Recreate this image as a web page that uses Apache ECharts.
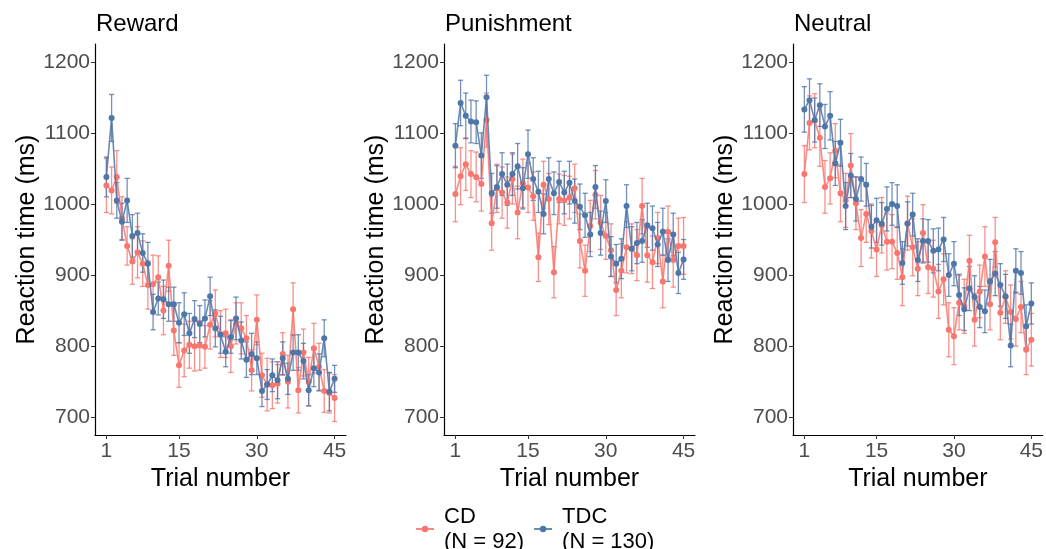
<!DOCTYPE html>
<html>
<head>
<meta charset="utf-8">
<title>Reaction time by trial</title>
<script src="https://cdn.jsdelivr.net/npm/echarts@6.0.0/dist/echarts.min.js"></script>
<style>
  html, body { margin: 0; padding: 0; background: #fff; }
  #chart { width: 1046px; height: 549px; }
</style>
</head>
<body>
<div id="chart"></div>
<script>
const panels = ['Reward', 'Punishment', 'Neutral'];
const xTicks = [1, 15, 30, 45];
const yTicks = [700, 800, 900, 1000, 1100, 1200];

// mean reaction time per trial (trial 1..45)
const rewardCD = [1026, 1019, 1038, 980, 941, 919, 932, 916, 886, 887, 897, 850, 913, 822, 773, 794, 802, 800, 801, 799, 830, 846, 817, 818, 800, 832, 825, 811, 766, 837, 759, 746, 745, 747, 789, 750, 852, 738, 791, 750, 797, 771, 737, 734, 727];
const rewardTDC = [1038, 1121, 1005, 975, 1005, 955, 959, 931, 916, 848, 867, 866, 859, 859, 833, 845, 818, 838, 831, 839, 870, 825, 816, 792, 813, 839, 808, 781, 789, 783, 737, 746, 759, 752, 783, 754, 791, 791, 779, 738, 769, 763, 811, 736, 754];
const punishCD = [1014, 1039, 1056, 1042, 1038, 1028, 1118, 973, 1022, 1016, 1002, 1035, 988, 1029, 1023, 1011, 925, 1027, 1007, 904, 1007, 1005, 1009, 1022, 948, 906, 969, 1013, 974, 955, 935, 879, 906, 939, 937, 928, 997, 928, 918, 952, 891, 961, 921, 941, 941];
const punishTDC = [1082, 1142, 1124, 1116, 1115, 1068, 1150, 1015, 1024, 1042, 1027, 1042, 1053, 1022, 1070, 1035, 1017, 986, 1035, 1015, 1031, 1016, 1030, 1004, 996, 984, 957, 1024, 959, 1004, 926, 916, 923, 997, 937, 945, 948, 970, 966, 943, 961, 921, 957, 903, 922];
const neutralCD = [1042, 1114, 1117, 1093, 1024, 1036, 1075, 1015, 1005, 1054, 1001, 952, 986, 962, 936, 970, 947, 947, 931, 897, 973, 939, 909, 959, 911, 909, 877, 894, 823, 814, 861, 856, 920, 837, 877, 926, 859, 946, 847, 869, 848, 838, 855, 795, 809];
const neutralTDC = [1133, 1146, 1118, 1139, 1109, 1124, 1057, 1086, 997, 1040, 1007, 1035, 1027, 968, 977, 972, 993, 1000, 997, 917, 972, 985, 921, 948, 948, 934, 936, 950, 900, 916, 872, 852, 881, 869, 855, 849, 891, 902, 886, 870, 801, 906, 903, 828, 860];

// half length of the error bars
const rewardCDErr = [38, 33, 37, 30, 27, 32, 36, 32, 34, 41, 30, 34, 36, 35, 31, 37, 33, 35, 35, 30, 34, 33, 33, 34, 37, 29, 36, 32, 29, 35, 31, 37, 33, 27, 30, 37, 37, 32, 33, 34, 35, 33, 30, 28, 33];
const rewardTDCErr = [28, 33, 25, 26, 31, 30, 28, 27, 30, 25, 23, 27, 24, 24, 28, 30, 28, 26, 26, 26, 27, 26, 26, 21, 23, 30, 26, 25, 29, 23, 22, 21, 23, 26, 23, 22, 25, 25, 25, 22, 26, 26, 26, 27, 19];
const punishCDErr = [39, 40, 37, 33, 35, 38, 38, 38, 34, 36, 36, 35, 37, 34, 35, 34, 34, 33, 36, 36, 35, 35, 30, 34, 38, 36, 36, 34, 38, 33, 37, 36, 38, 36, 35, 36, 39, 38, 37, 36, 37, 36, 38, 39, 40];
const punishTDCErr = [31, 32, 32, 30, 30, 32, 31, 28, 30, 30, 29, 30, 32, 29, 34, 30, 29, 28, 30, 30, 29, 30, 30, 31, 32, 31, 31, 30, 31, 30, 28, 27, 28, 30, 31, 29, 30, 31, 31, 31, 33, 30, 30, 29, 28];
const neutralCDErr = [40, 38, 38, 40, 37, 36, 38, 40, 38, 45, 37, 40, 40, 38, 38, 39, 40, 38, 37, 40, 38, 40, 38, 40, 37, 40, 38, 36, 38, 40, 38, 38, 36, 37, 37, 42, 36, 35, 38, 37, 38, 38, 36, 35, 37];
const neutralTDCErr = [32, 30, 31, 30, 31, 34, 31, 33, 33, 31, 31, 31, 30, 30, 31, 30, 31, 30, 30, 30, 31, 30, 30, 31, 30, 31, 30, 31, 30, 31, 29, 30, 31, 30, 29, 30, 31, 31, 30, 31, 30, 31, 30, 30, 29];

const cdColor = '#F8766D';
const tdcColor = '#4F76A8';
const font = 'Liberation Sans, Arial, sans-serif';

const groups = [
  { cd: rewardCD, cdErr: rewardCDErr, tdc: rewardTDC, tdcErr: rewardTDCErr },
  { cd: punishCD, cdErr: punishCDErr, tdc: punishTDC, tdcErr: punishTDCErr },
  { cd: neutralCD, cdErr: neutralCDErr, tdc: neutralTDC, tdcErr: neutralTDCErr }
];
const gridLefts = [95, 444, 793];

function toPoints(values) {
  return values.map((v, i) => [i + 1, v]);
}
function toBars(values, errs) {
  return values.map((v, i) => [i + 1, v - errs[i], v + errs[i]]);
}

function renderErr(params, api) {
  const x = api.value(0);
  const lo = api.coord([x, api.value(1)]);
  const hi = api.coord([x, api.value(2)]);
  const cap = 2.6;
  const style = { stroke: api.visual('color'), lineWidth: 1.3, opacity: 0.8 };
  return {
    type: 'group',
    children: [
      { type: 'line', shape: { x1: lo[0], y1: lo[1], x2: hi[0], y2: hi[1] }, style: style },
      { type: 'line', shape: { x1: lo[0] - cap, y1: lo[1], x2: lo[0] + cap, y2: lo[1] }, style: style },
      { type: 'line', shape: { x1: hi[0] - cap, y1: hi[1], x2: hi[0] + cap, y2: hi[1] }, style: style }
    ]
  };
}

const grid = [], xAxis = [], yAxis = [], title = [], series = [];
panels.forEach((name, k) => {
  grid.push({ left: gridLefts[k], top: 44, width: 251, height: 391 });
  title.push({
    text: name, left: gridLefts[k] - 4, top: 7,
    textStyle: { fontFamily: font, fontSize: 24, fontWeight: 'normal', color: '#000' }
  });
  xAxis.push({
    type: 'value', gridIndex: k, min: -1.2, max: 47.2,
    name: 'Trial number', nameLocation: 'middle', nameGap: 28,
    nameTextStyle: { fontFamily: font, fontSize: 25, color: '#000' },
    splitLine: { show: false },
    axisLine: { show: true, onZero: false, lineStyle: { color: '#000', width: 1.2 } },
    axisTick: { show: true, length: 4, customValues: xTicks, lineStyle: { color: '#333' } },
    axisLabel: { customValues: xTicks, margin: 6, fontFamily: font, fontSize: 21, color: '#4D4D4D' }
  });
  yAxis.push({
    type: 'value', gridIndex: k, min: 675, max: 1225,
    name: 'Reaction time (ms)', nameLocation: 'middle', nameGap: 51,
    nameTextStyle: { fontFamily: font, fontSize: 25, color: '#000' },
    splitLine: { show: false },
    axisLine: { show: true, onZero: false, lineStyle: { color: '#000', width: 1.2 } },
    axisTick: { show: true, length: 4, customValues: yTicks, lineStyle: { color: '#333' } },
    axisLabel: {
      customValues: yTicks, margin: 5, fontFamily: font, fontSize: 21, color: '#4D4D4D',
      formatter: (v) => String(v)
    }
  });

  const g = groups[k];
  series.push({
    type: 'custom', name: 'CD err', xAxisIndex: k, yAxisIndex: k,
    itemStyle: { color: cdColor }, renderItem: renderErr,
    encode: { x: 0, y: [1, 2] }, data: toBars(g.cd, g.cdErr), z: 1
  });
  series.push({
    type: 'custom', name: 'TDC err', xAxisIndex: k, yAxisIndex: k,
    itemStyle: { color: tdcColor }, renderItem: renderErr,
    encode: { x: 0, y: [1, 2] }, data: toBars(g.tdc, g.tdcErr), z: 2
  });
  series.push({
    type: 'line', name: 'CD', xAxisIndex: k, yAxisIndex: k,
    symbol: 'circle', symbolSize: 6, showAllSymbol: true,
    itemStyle: { color: cdColor },
    lineStyle: { color: cdColor, width: 1.6, opacity: 0.85 },
    data: toPoints(g.cd), z: 3
  });
  series.push({
    type: 'line', name: 'TDC', xAxisIndex: k, yAxisIndex: k,
    symbol: 'circle', symbolSize: 6, showAllSymbol: true,
    itemStyle: { color: tdcColor },
    lineStyle: { color: tdcColor, width: 1.6, opacity: 0.85 },
    data: toPoints(g.tdc), z: 4
  });
});

const legendN = { CD: '(N = 92)', TDC: '(N = 130)' };

const chart = echarts.init(document.getElementById('chart'), null, { renderer: 'canvas' });
chart.setOption({
  animation: false,
  backgroundColor: '#fff',
  title: title,
  grid: grid,
  xAxis: xAxis,
  yAxis: yAxis,
  legend: {
    data: ['CD', 'TDC'],
    left: 410, top: 499,
    itemWidth: 18, itemHeight: 8, itemGap: 9,
    formatter: (name) => name + '\n' + legendN[name],
    textStyle: { fontFamily: font, fontSize: 22, lineHeight: 25, color: '#000', padding: [0, 0, 0, 5] }
  },
  series: series
});
</script>
</body>
</html>
